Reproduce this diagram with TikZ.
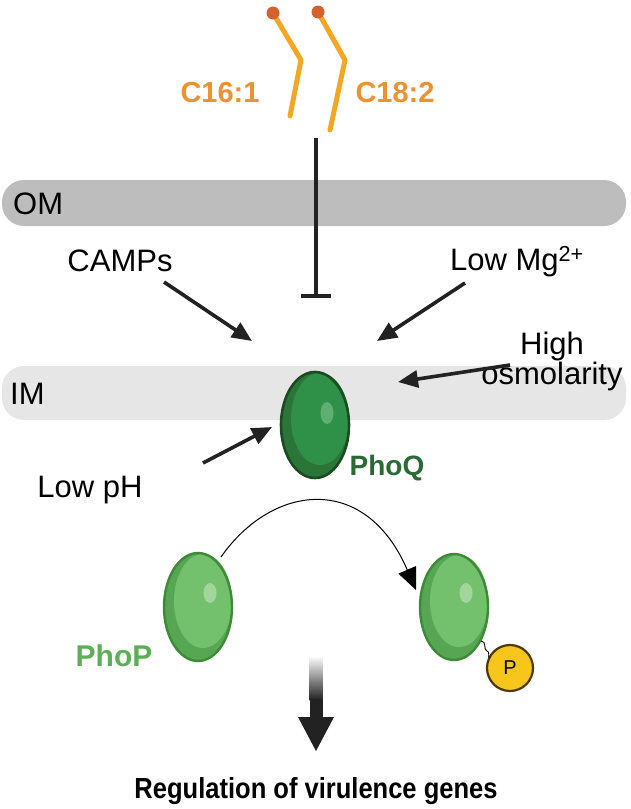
\documentclass[tikz,border=0pt]{standalone}
\usepackage{fontspec}
\setmainfont{Liberation Sans}
\usetikzlibrary{arrows.meta,shapes.geometric}
\definecolor{lipid}{HTML}{F5A623}
\definecolor{lipidhead}{HTML}{D4622C}
\definecolor{lipidtxt}{HTML}{EE912F}
\definecolor{omgray}{HTML}{BDBDBD}
\definecolor{imgray}{HTML}{E6E6E6}
\definecolor{qout}{HTML}{1C4B22}
\definecolor{qdark}{HTML}{2A7538}
\definecolor{qmid}{HTML}{2F9147}
\definecolor{qhi}{HTML}{5FAF72}
\definecolor{qtxt}{HTML}{2A6B35}
\definecolor{pout}{HTML}{3E8A36}
\definecolor{pdark}{HTML}{57A653}
\definecolor{pmid}{HTML}{74C16D}
\definecolor{phi}{HTML}{A3D69D}
\definecolor{ptxt}{HTML}{5DAF57}
\definecolor{pyel}{HTML}{F7C51C}
\definecolor{pyelout}{HTML}{4A3A05}
\definecolor{arr}{HTML}{222222}
\tikzset{
  lbl/.style={font=\fontsize{31}{34}\selectfont, text=black, inner sep=0pt},
  lipidlbl/.style={font=\fontsize{29}{32}\selectfont\bfseries, text=lipidtxt, inner sep=0pt},
  stim/.style={draw=arr, line width=3.6pt, -{Triangle[length=20pt,width=17pt]}},
  lipidline/.style={draw=lipid, line width=5pt, line cap=round, line join=round},
}
\begin{document}
\begin{tikzpicture}[x=1pt,y=-1pt]
\useasboundingbox (0,0) rectangle (630,809);
% membranes
\fill[omgray, rounded corners=22pt] (2,180) rectangle (626,226);
\node[lbl, anchor=west] (om) at (13,204) {OM};
\fill[imgray, rounded corners=22pt] (2,366) rectangle (626,420);
\node[lbl, anchor=west] (im) at (10,394) {IM};
% lipids
\draw[lipidline] (273,13) -- (301,60) -- (290,116);
\draw[lipidline] (318,12) -- (345,60) -- (330,130);
\fill[lipidhead] (273,13) circle (6.5);
\fill[lipidhead] (318,12) circle (6.5);
\node[lipidlbl] (c16) at (220,93) {C16:1};
\node[lipidlbl] (c18) at (395,93) {C18:2};
% inhibition
\coordinate (inhA) at (316,138);
\coordinate (inhB) at (316,298);
\draw[arr, line width=3.6pt, -{Bar[width=30pt]}] (inhA) -- (inhB);
% PhoQ
\node[ellipse, minimum width=68pt, minimum height=106pt, inner sep=0pt] (phoq) at (315,425) {};
\fill[qdark] (315,425) ellipse (34 and 53);
\fill[qmid] (320,419) ellipse (29 and 46);
\fill[qhi] (327,413) ellipse (6.5 and 11);
\draw[qout, line width=2.6pt] (315,425) ellipse (34 and 53);
\node[font=\fontsize{28}{30}\selectfont\bfseries, text=qtxt, inner sep=0pt] (phoqlbl) at (387,468) {PhoQ};
% stimuli
\node[lbl] (camps) at (120,261) {CAMPs};
\coordinate (campsA) at (164,282);
\coordinate (campsB) at (252,341);
\draw[stim] (campsA) -- (campsB);
\node[lbl] (mg) at (517,262) {Low Mg\textsuperscript{2+}};
\coordinate (mgA) at (465,283);
\coordinate (mgB) at (377,341);
\draw[stim] (mgA) -- (mgB);
\node[lbl, align=center] (osm) at (552,361) {High\\[-4pt]osmolarity};
\coordinate (osmA) at (510,365);
\coordinate (osmB) at (398,382);
\draw[stim] (osmA) -- (osmB);
\node[lbl] (ph) at (90,490) {Low pH};
\coordinate (phA) at (203,463);
\coordinate (phB) at (272,427);
\draw[stim] (phA) -- (phB);
% PhoP left
\node[ellipse, minimum width=68pt, minimum height=108pt, inner sep=0pt] (phop) at (198,607) {};
\fill[pdark] (198,607) ellipse (34 and 54);
\fill[pmid] (203,601) ellipse (29 and 47);
\fill[phi] (210,593) ellipse (6.5 and 10);
\draw[pout, line width=2.4pt] (198,607) ellipse (34 and 54);
\node[font=\fontsize{30}{32}\selectfont\bfseries, text=ptxt, inner sep=0pt] (phoplbl) at (114,656) {PhoP};
% PhoP right
\node[ellipse, minimum width=68pt, minimum height=106pt, inner sep=0pt] (phopp) at (454,607) {};
\fill[pdark] (454,607) ellipse (34 and 53);
\fill[pmid] (459,601) ellipse (29 and 46);
\fill[phi] (466,593) ellipse (6.5 and 10);
\draw[pout, line width=2.4pt] (454,607) ellipse (34 and 53);
% phosphoryl
\node[circle, draw=pyelout, fill=pyel, line width=2.2pt, minimum size=46pt, inner sep=0pt, font=\fontsize{20}{22}\selectfont] (pp) at (510,668) {P};
\draw[black, line width=0.9pt] (481,641) .. controls (487,641) and (483,650) .. (487,651) .. controls (490,652) and (488,656) .. (489,658);
% curved transfer arrow
\coordinate (curveA) at (221,557);
\coordinate (curveB) at (416,590);
\draw[black, line width=1pt, -{Triangle[length=22pt,width=19pt]}] (curveA) .. controls (272,484) and (365,472) .. (curveB);
% gradient output arrow
\shade[top color=white, bottom color=arr, shading angle=0] (309.5,656) rectangle (322.5,700);
\fill[arr] (309.5,699) rectangle (322.5,719);
\coordinate (outA) at (316,716);
\coordinate (outB) at (316,751);
\fill[arr] (298,717) -- (334,717) -- (316,751) -- cycle;
\node[font=\fontsize{29}{32}\selectfont\bfseries\addfontfeature{FakeStretch=0.88}, inner sep=0pt] (reg) at (316,791) {Regulation of virulence genes};
\end{tikzpicture}
\end{document}
